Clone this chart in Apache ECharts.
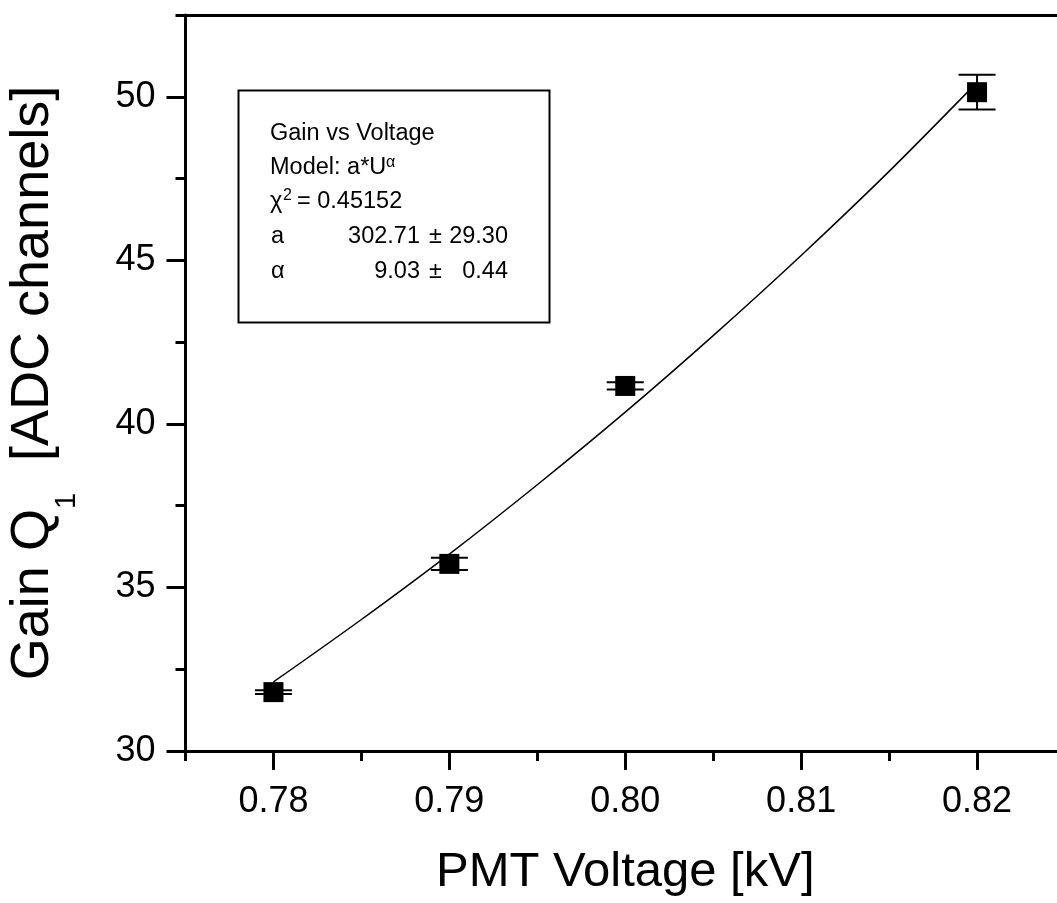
<!DOCTYPE html>
<html>
<head>
<meta charset="utf-8">
<script src="https://cdn.jsdelivr.net/npm/echarts@6/dist/echarts.min.js"></script>
<style>
html, body { margin: 0; padding: 0; background: #fff; }
#chart { width: 1057px; height: 903px; }
</style>
</head>
<body>
<div id="chart"></div>
<script>
// ---- data ----
const voltages = [0.78, 0.79, 0.80, 0.82];
const gains = [31.80, 35.72, 41.16, 50.14];
const gainErrors = [0.06, 0.19, 0.11, 0.53];

const fitVoltages = [0.78, 0.785, 0.79, 0.795, 0.80, 0.805, 0.81, 0.815, 0.82];
const fitGains = [32.11, 34.02, 36.02, 38.14, 40.36, 42.70, 45.15, 47.72, 50.44];

const xTickValues = [0.78, 0.79, 0.80, 0.81, 0.82];
const yTickValues = [30, 35, 40, 45, 50];

const boxTitle = 'Gain vs Voltage';
const boxModel = 'Model: a*U';
const boxModelSup = 'α';
const boxChiSym = 'χ';
const boxChiSup = '2';
const boxChiVal = '= 0.45152';
const paramNames = ['a', 'α'];
const paramValues = ['302.71', '9.03'];
const paramErrors = ['29.30', '0.44'];

const xName = 'PMT Voltage [kV]';
const yNameMain = 'Gain Q';
const yNameSub = '1';
const yNameRest = '  [ADC channels]';

// ---- chart ----
const FONT = '"Liberation Sans", Arial, Helvetica, sans-serif';
const chart = echarts.init(document.getElementById('chart'), null, { renderer: 'canvas' });

function txt(x, y, s, size, align) {
  return {
    type: 'text', x: x, y: y, z: 100,
    style: { text: s, fill: '#000', fontSize: size, fontFamily: FONT,
             align: align || 'left', verticalAlign: 'middle' }
  };
}

const rowY = [133.6, 168, 201.3, 237, 271.3];
const FS = 23.5;
const boxGraphics = [
  { type: 'rect', z: 90, shape: { x: 238.5, y: 90.5, width: 311, height: 232 },
    style: { fill: '#fff', stroke: '#000', lineWidth: 2 } },
  txt(270, rowY[0], boxTitle, FS),
  txt(270, rowY[1], boxModel, FS),
  txt(386, rowY[1] - 5, boxModelSup, 16),
  txt(270, rowY[2], boxChiSym, FS),
  txt(283, rowY[2] - 6, boxChiSup, 16),
  txt(297, rowY[2], boxChiVal, FS)
];
paramNames.forEach(function (n, i) {
  boxGraphics.push(txt(271, rowY[3 + i], n, FS));
  boxGraphics.push(txt(420, rowY[3 + i], paramValues[i], FS, 'right'));
  boxGraphics.push(txt(429, rowY[3 + i], '±', FS));
  boxGraphics.push(txt(508, rowY[3 + i], paramErrors[i], FS, 'right'));
});

const axisColor = '#000';
const option = {
  animation: false,
  backgroundColor: '#fff',
  grid: { left: 185.5, right: -8, top: 15, bottom: 152, containLabel: false, outerBoundsMode: 'none' },
  xAxis: [
    {
      type: 'value', position: 'bottom', min: 0.775, max: 0.825,
      axisLine: { show: true, onZero: false, lineStyle: { color: axisColor, width: 3 } },
      axisTick: { show: true, inside: false, length: 19, customValues: xTickValues,
                  lineStyle: { color: axisColor, width: 3 } },
      axisLabel: { show: true, customValues: xTickValues, margin: 33, fontSize: 36,
                   fontFamily: FONT, color: '#000',
                   formatter: function (v) { return Number(v).toFixed(2); } },
      splitLine: { show: false },
      name: xName, nameLocation: 'middle', nameGap: 97,
      nameTextStyle: { fontSize: 49, lineHeight: 49, fontFamily: FONT, color: '#000' }
    },
    {
      type: 'value', position: 'bottom', min: 0.775, max: 0.825, interval: 0.005,
      axisLine: { show: false, onZero: false },
      axisTick: { show: true, inside: false, length: 10, lineStyle: { color: axisColor, width: 3 } },
      axisLabel: { show: false },
      splitLine: { show: false }
    },
    {
      type: 'value', position: 'top', min: 0.775, max: 0.825,
      axisLine: { show: true, onZero: false, lineStyle: { color: axisColor, width: 3 } },
      axisTick: { show: false },
      axisLabel: { show: false },
      splitLine: { show: false }
    }
  ],
  yAxis: [
    {
      type: 'value', position: 'left', min: 30, max: 52.5,
      axisLine: { show: true, onZero: false, lineStyle: { color: axisColor, width: 3 } },
      axisTick: { show: true, inside: false, length: 19, customValues: yTickValues,
                  lineStyle: { color: axisColor, width: 3 } },
      axisLabel: { show: true, customValues: yTickValues, margin: 30, fontSize: 36,
                   fontFamily: FONT, color: '#000' },
      splitLine: { show: false },
      name: '{m|' + yNameMain + '}{s|' + yNameSub + '}{m|' + yNameRest + '}',
      nameLocation: 'middle', nameGap: 125,
      nameTextStyle: {
        fontSize: 54, fontFamily: FONT, color: '#000',
        rich: {
          m: { fontSize: 54, lineHeight: 54, fontFamily: FONT, color: '#000', verticalAlign: 'top' },
          s: { fontSize: 29, lineHeight: 29, fontFamily: FONT, color: '#000', verticalAlign: 'top',
               padding: [46, 2, 0, 0] }
        }
      }
    },
    {
      type: 'value', position: 'left', min: 30, max: 52.5, interval: 2.5,
      axisLine: { show: false, onZero: false },
      axisTick: { show: true, inside: false, length: 10, lineStyle: { color: axisColor, width: 3 } },
      axisLabel: { show: false },
      splitLine: { show: false }
    }
  ],
  series: [
    {
      type: 'line', xAxisIndex: 0, yAxisIndex: 0, z: 3,
      data: fitVoltages.map(function (v, i) { return [v, fitGains[i]]; }),
      smooth: 0.3, showSymbol: false, symbol: 'none',
      lineStyle: { color: '#000', width: 1.5 }
    },
    {
      type: 'custom', xAxisIndex: 0, yAxisIndex: 0, z: 4,
      encode: { x: 0, y: 1 },
      data: voltages.map(function (v, i) { return [v, gains[i], gainErrors[i]]; }),
      renderItem: function (params, api) {
        const x = api.value(0), y = api.value(1), e = api.value(2);
        const hi = api.coord([x, y + e]);
        const lo = api.coord([x, y - e]);
        const hw = 18.5;
        const st = { stroke: '#000', lineWidth: 2 };
        return {
          type: 'group',
          children: [
            { type: 'line', shape: { x1: hi[0], y1: hi[1], x2: lo[0], y2: lo[1] }, style: st },
            { type: 'line', shape: { x1: hi[0] - hw, y1: hi[1], x2: hi[0] + hw, y2: hi[1] }, style: st },
            { type: 'line', shape: { x1: lo[0] - hw, y1: lo[1], x2: lo[0] + hw, y2: lo[1] }, style: st }
          ]
        };
      }
    },
    {
      type: 'scatter', xAxisIndex: 0, yAxisIndex: 0, z: 5,
      data: voltages.map(function (v, i) { return [v, gains[i]]; }),
      symbol: 'rect', symbolSize: 20,
      itemStyle: { color: '#000', opacity: 1 }
    }
  ],
  graphic: boxGraphics
};
chart.setOption(option);
</script>
</body>
</html>
